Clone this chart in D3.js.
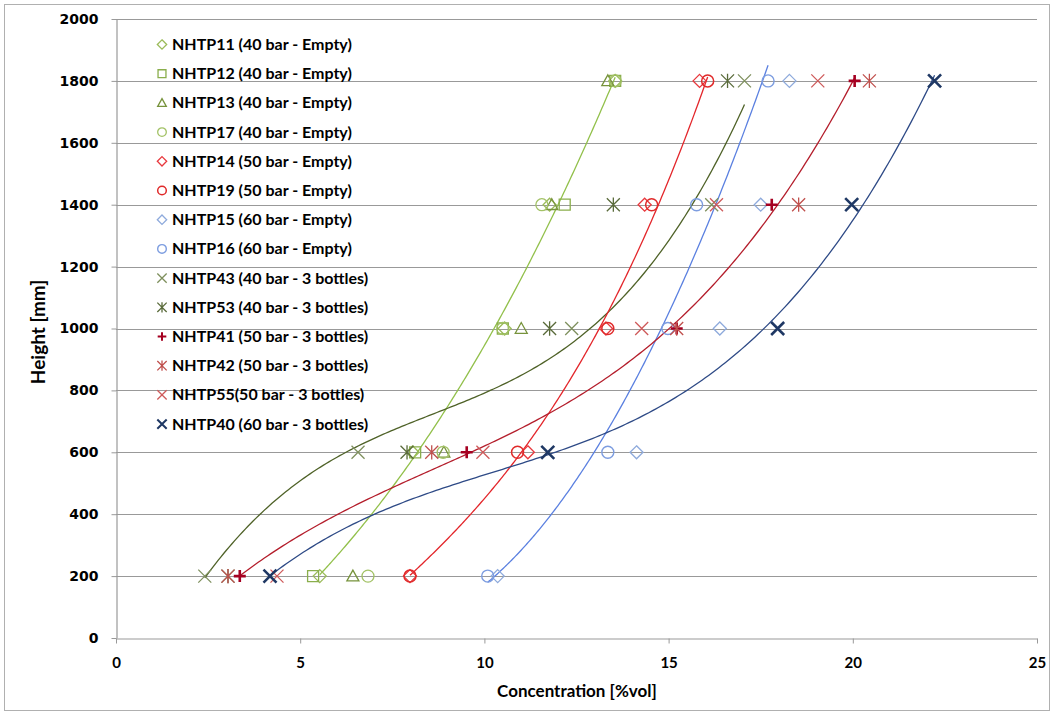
<!DOCTYPE html>
<html>
<head>
<meta charset="utf-8">
<script src="https://cdn.jsdelivr.net/npm/d3@7"></script>
<style>
  body { margin: 0; background: #fff; }
  svg { display: block; }
</style>
</head>
<body>
<svg id="chart"></svg>
<script>
// measurement heights [mm]
const heights = [200, 600, 1000, 1400, 1800];

// concentration [%vol] at each height
const nhtp11 = [5.53, 8.05, 10.55, 11.77, 13.55];
const nhtp12 = [5.35, 8.12, 10.5, 12.18, 13.55];
const nhtp13 = [6.43, 8.9, 11.0, 11.83, 13.35];
const nhtp17 = [6.84, 8.88, 10.5, 11.56, 13.55];
const nhtp14 = [7.98, 11.18, 13.3, 14.35, 15.84];
const nhtp19 = [7.98, 10.9, 13.35, 14.54, 16.06];
const nhtp15 = [10.36, 14.13, 16.39, 17.5, 18.28];
const nhtp16 = [10.09, 13.35, 14.98, 15.76, 17.7];
const nhtp43 = [2.41, 6.57, 12.37, 16.17, 17.06];
const nhtp53 = [3.04, 7.9, 11.77, 13.5, 16.6];
const nhtp41 = [3.36, 9.52, 15.22, 17.8, 20.05];
const nhtp42 = [3.04, 8.57, 15.22, 18.53, 20.45];
const nhtp55 = [4.37, 9.96, 14.27, 16.3, 19.05];
const nhtp40 = [4.18, 11.72, 17.96, 19.97, 22.22];

const seriesNames = [
  'NHTP11 (40 bar - Empty)', 'NHTP12 (40 bar - Empty)', 'NHTP13 (40 bar - Empty)',
  'NHTP17 (40 bar - Empty)', 'NHTP14 (50 bar - Empty)', 'NHTP19 (50 bar - Empty)',
  'NHTP15 (60 bar - Empty)', 'NHTP16 (60 bar - Empty)', 'NHTP43 (40 bar - 3 bottles)',
  'NHTP53 (40 bar - 3 bottles)', 'NHTP41 (50 bar - 3 bottles)', 'NHTP42 (50 bar - 3 bottles)',
  'NHTP55(50 bar - 3 bottles)', 'NHTP40 (60 bar - 3 bottles)'
];
const seriesValues = [nhtp11, nhtp12, nhtp13, nhtp17, nhtp14, nhtp19, nhtp15, nhtp16,
  nhtp43, nhtp53, nhtp41, nhtp42, nhtp55, nhtp40];

const xTicks = [0, 5, 10, 15, 20, 25];
const yTicks = [0, 200, 400, 600, 800, 1000, 1200, 1400, 1600, 1800, 2000];

// marker style per series (same order as seriesNames)
const markerStyles = [
  { shape: 'diamond', color: '#9bbb59', w: 1.3 },
  { shape: 'square', color: '#8aae4c', w: 1.3 },
  { shape: 'triangle', color: '#77933c', w: 1.3 },
  { shape: 'circle', color: '#a3c266', w: 1.3 },
  { shape: 'diamond', color: '#e8383d', w: 1.3 },
  { shape: 'circle', color: '#e02a2a', w: 1.5 },
  { shape: 'diamond', color: '#8eaadc', w: 1.3 },
  { shape: 'circle', color: '#7d9de0', w: 1.4 },
  { shape: 'x', color: '#7f905e', w: 1.3 },
  { shape: 'star', color: '#5a6b3b', w: 1.3 },
  { shape: 'plus', color: '#a50021', w: 2.6 },
  { shape: 'star', color: '#c0504d', w: 1.3 },
  { shape: 'x', color: '#cf5b5b', w: 1.3 },
  { shape: 'x', color: '#1f3864', w: 2.6 }
];

// polynomial trendlines: index into seriesValues, order, line colour
const trendlines = [
  { idx: 0, order: 3, color: '#92c04b' },
  { idx: 8, order: 3, color: '#4f6228' },
  { idx: 5, order: 3, color: '#e3262b' },
  { idx: 7, order: 2, color: '#5b80e0' },
  { idx: 10, order: 3, color: '#b41e2c' },
  { idx: 13, order: 3, color: '#2e4a86' }
];

const width = 1054, height = 715;
const svg = d3.select('#chart').attr('width', width).attr('height', height);

// outer frame
svg.append('rect')
  .attr('x', 4.5).attr('y', 4.5)
  .attr('width', 1045).attr('height', 706)
  .attr('fill', 'none').attr('stroke', '#b0b0b0');

const x = d3.scaleLinear().domain([0, 25]).range([116, 1037]);
const y = d3.scaleLinear().domain([0, 2000]).range([638, 19]);

// gridlines
svg.append('g')
  .selectAll('line')
  .data(yTicks.filter(d => d > 0))
  .join('line')
  .attr('x1', x(0)).attr('x2', x(25))
  .attr('y1', d => Math.round(y(d)) + 0.5).attr('y2', d => Math.round(y(d)) + 0.5)
  .attr('stroke', '#999').attr('stroke-width', 1.2);

// axes
const xAxis = svg.append('g')
  .attr('transform', 'translate(0,' + (Math.round(y(0)) + 0.5) + ')')
  .call(d3.axisBottom(x).tickValues(xTicks).tickSize(5).tickPadding(14).tickSizeOuter(0));
const yAxis = svg.append('g')
  .attr('transform', 'translate(' + (Math.round(x(0)) + 0.5) + ',0)')
  .call(d3.axisLeft(y).tickValues(yTicks).tickFormat(d3.format('d'))
    .tickSize(5).tickPadding(13).tickSizeOuter(0));

[xAxis, yAxis].forEach(g => {
  g.select('.domain').attr('stroke', '#999').attr('stroke-width', 1.2);
  g.selectAll('.tick line').attr('stroke', '#999');
});
xAxis.selectAll('text')
  .attr('font-family', '"Liberation Sans Narrow", Lato, sans-serif')
  .attr('font-weight', 'bold').attr('font-size', 15).attr('fill', '#000');
yAxis.selectAll('text')
  .attr('font-family', '"DejaVu Sans", sans-serif')
  .attr('font-weight', 'bold').attr('font-size', 14).attr('fill', '#000');

// axis titles
svg.append('text')
  .attr('x', 577).attr('y', 697)
  .attr('text-anchor', 'middle')
  .attr('font-family', '"Liberation Sans Narrow", Lato, sans-serif')
  .attr('font-weight', 'bold').attr('font-size', 17)
  .text('Concentration  [%vol]');
svg.append('text')
  .attr('transform', 'translate(45,332) rotate(-90)')
  .attr('text-anchor', 'middle')
  .attr('font-family', 'Lato, sans-serif')
  .attr('font-weight', 'bold').attr('font-size', 19)
  .text('Height [mm]');

// marker shapes
function markerPath(shape, s) {
  switch (shape) {
    case 'diamond': return `M0,${-s}L${s},0L0,${s}L${-s},0Z`;
    case 'square': return `M${-s},${-s}H${s}V${s}H${-s}Z`;
    case 'triangle': return `M0,${-s}L${s},${s * 0.8}L${-s},${s * 0.8}Z`;
    case 'circle': return `M${s},0A${s},${s} 0 1 1 ${-s},0A${s},${s} 0 1 1 ${s},0Z`;
    case 'x': return `M${-s},${-s}L${s},${s}M${-s},${s}L${s},${-s}`;
    case 'star': return `M${-s},${-s}L${s},${s}M${-s},${s}L${s},${-s}M0,${-s * 1.1}V${s * 1.1}`;
    case 'plus': return `M${-s},0H${s}M0,${-s}V${s}`;
  }
}
const markerSize = { diamond: 6.5, square: 5.5, triangle: 6, circle: 6, x: 6.5, star: 6.5, plus: 6 };

// least squares polynomial fit, y as function of x
function polyfit(xs, ys, order) {
  const n = order + 1;
  const A = Array.from({ length: n }, () => new Array(n + 1).fill(0));
  xs.forEach((xv, i) => {
    for (let r = 0; r < n; r++) {
      for (let c = 0; c < n; c++) A[r][c] += Math.pow(xv, r + c);
      A[r][n] += ys[i] * Math.pow(xv, r);
    }
  });
  for (let i = 0; i < n; i++) {
    let p = i;
    for (let k = i + 1; k < n; k++) if (Math.abs(A[k][i]) > Math.abs(A[p][i])) p = k;
    [A[i], A[p]] = [A[p], A[i]];
    for (let k = i + 1; k < n; k++) {
      const f = A[k][i] / A[i][i];
      for (let c = i; c <= n; c++) A[k][c] -= f * A[i][c];
    }
  }
  const coef = new Array(n).fill(0);
  for (let i = n - 1; i >= 0; i--) {
    let s = A[i][n];
    for (let c = i + 1; c < n; c++) s -= A[i][c] * coef[c];
    coef[i] = s / A[i][i];
  }
  return xv => coef.reduce((acc, a, k) => acc + a * Math.pow(xv, k), 0);
}

svg.append('clipPath').attr('id', 'plot')
  .append('rect').attr('x', x(0)).attr('y', y(2000))
  .attr('width', x(25) - x(0)).attr('height', y(0) - y(2000));

// trendlines
const line = d3.line().x(d => x(d[0])).y(d => y(d[1]));
const trendG = svg.append('g').attr('clip-path', 'url(#plot)');
trendlines.forEach(t => {
  const vals = seriesValues[t.idx];
  const f = polyfit(vals, heights, t.order);
  const [lo, hi] = d3.extent(vals);
  const pts = d3.range(0, 201).map(i => {
    const xv = lo + (hi - lo) * i / 200;
    return [xv, f(xv)];
  });
  trendG.append('path')
    .datum(pts)
    .attr('fill', 'none')
    .attr('stroke', t.color)
    .attr('stroke-width', 1.3)
    .attr('d', line);
});

// data markers
seriesValues.forEach((vals, si) => {
  const st = markerStyles[si];
  svg.append('g')
    .selectAll('path')
    .data(vals.map((v, i) => ({ v, h: heights[i] })))
    .join('path')
    .attr('transform', d => 'translate(' + x(d.v) + ',' + y(d.h) + ')')
    .attr('d', markerPath(st.shape, markerSize[st.shape]))
    .attr('fill', 'none')
    .attr('stroke', st.color)
    .attr('stroke-width', st.w);
});

// legend
const legend = svg.append('g').attr('transform', 'translate(162,44.5)');
seriesNames.forEach((name, i) => {
  const st = markerStyles[i];
  const row = legend.append('g').attr('transform', 'translate(0,' + (i * 29.2) + ')');
  row.append('path')
    .attr('d', markerPath(st.shape, markerSize[st.shape] * 0.72))
    .attr('fill', 'none')
    .attr('stroke', st.color)
    .attr('stroke-width', Math.min(st.w, 2));
  row.append('text')
    .attr('x', 10).attr('y', 5.5)
    .attr('font-family', 'Lato, sans-serif')
    .attr('font-weight', 'bold').attr('font-size', 16)
    .text(name);
});
</script>
</body>
</html>
